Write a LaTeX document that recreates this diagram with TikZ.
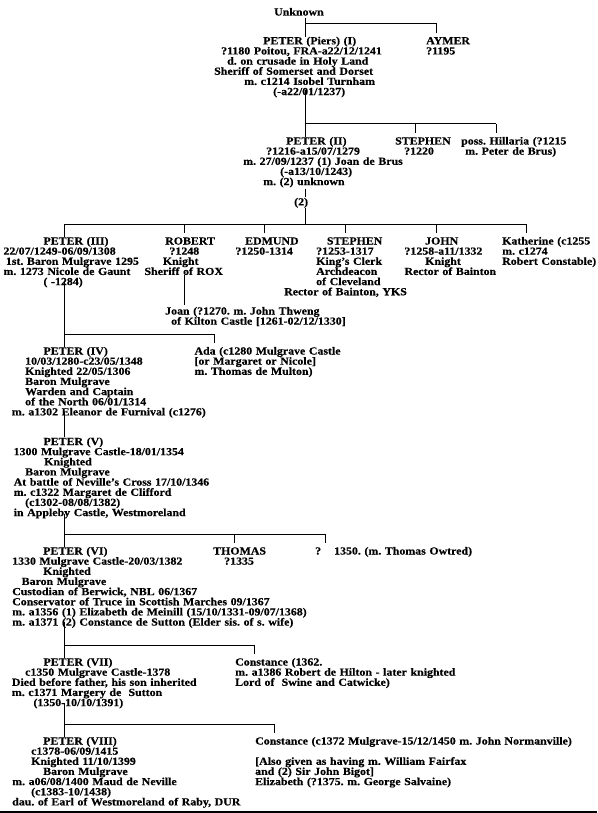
\documentclass[tikz,border=0pt]{standalone}
\usepackage{fontspec}
\setmainfont{Liberation Serif}[FakeStretch=1.1, BoldFeatures={FakeBold=0.4}]
\usetikzlibrary{positioning}

\tikzset{
  person/.style={anchor=base west, inner sep=0pt, text width=400pt, align=left,
    font={\fontsize{10.8}{10.15}\selectfont\bfseries\frenchspacing\lineskiplimit=-4pt}},
  tie/.style={line width=1pt}
}
\newcommand{\indt}[1]{\hspace*{#1pt}}

\begin{document}
\begin{tikzpicture}[x=1pt,y=-1pt]
  \fill[white] (0,0) rectangle (597,813);
  \useasboundingbox (0,0) rectangle (597,813);

  % Unknown and his sons
  \node[person] (unknown) at (274,15.5) {Unknown};
  \node[person] (peterI) at (214,44.3) {\indt{49}PETER (Piers) (I)\\
    \indt{7}?1180 Poitou, FRA-a22/12/1241\\
    \indt{13}d. on crusade in Holy Land\\
    Sheriff of Somerset and Dorset\\
    \indt{30}m. c1214 Isobel Turnham\\
    \indt{59}(-a22/01/1237)};
  \node[person] (aymer) at (426,44.3) {AYMER\\ ?1195};

  \coordinate (bar1) at (305,24);
  \coordinate (bar1e) at (436,24);
  \draw[tie] ([yshift=-2pt]unknown.south -| bar1) -- (peterI.north -| bar1);
  \draw[tie] (bar1) -- (bar1e) -- ([yshift=4pt]aymer.north -| bar1e);

  % children of Peter (I)
  \node[person] (peterII) at (243,144.5) {\indt{43}PETER (II)\\
    \indt{23}?1216-a15/07/1279\\
    m. 27/09/1237 (1) Joan de Brus\\
    \indt{37}(-a13/10/1243)\\
    \indt{20}m. (2) unknown};
  \node[person] (marr2) at (294,205.4) {(2)};
  \node[person] (stephenI) at (395,144.5) {STEPHEN\\ \indt{9}?1220};
  \node[person] (hillaria) at (461,144.5) {poss. Hillaria (?1215\\ \indt{4}m. Peter de Brus)};

  \coordinate (bar2) at (305,124);
  \coordinate (bar2e) at (496,124);
  \draw[tie] ([yshift=8pt]peterI.south -| bar2) -- (peterII.north -| bar2);
  \draw[tie] (bar2) -- (bar2e);
  \foreach \kid/\kx in {stephenI/415, hillaria/496}
    \draw[tie] (bar2 -| \kx,0) -- ([yshift=4pt]\kid.north -| \kx,0);

  % children of Peter (II) by (2)
  \node[person] (peterIII) at (3.3,244.5) {\indt{40}PETER (III)\\
    22/07/1249-06/09/1308\\
    \indt{2.4}1st. Baron Mulgrave 1295\\
    m. 1273 Nicole de Gaunt\\
    \indt{40}( -1284)};
  \node[person] (robert) at (144.3,244.5) {\indt{20.7}ROBERT\\
    \indt{25}?1248\\
    \indt{18.4}Knight\\
    Sheriff of ROX};
  \node[person] (edmund) at (235.3,244.5) {\indt{9.7}EDMUND\\ ?1250-1314};
  \node[person] (stephenII) at (284,244.5) {\indt{42.7}STEPHEN\\
    \indt{32}?1253-1317\\
    \indt{32}King's Clerk\\
    \indt{32}Archdeacon\\
    \indt{32}of Cleveland\\
    Rector of Bainton, YKS};
  \node[person] (john) at (404.3,244.5) {\indt{20.7}JOHN\\
    ?1258-a11/1332\\
    \indt{20.7}Knight\\
    Rector of Bainton};
  \node[person] (katherine) at (502,244.5) {Katherine (c1255\\ m. c1274\\ Robert Constable)};
  \node[person] (joan) at (165,314.5) {Joan (?1270. m. John Thweng\\
    \indt{6}of Kilton Castle [1261-02/12/1330]};

  \coordinate (bar3) at (305,224);
  \coordinate (bar3w) at (64,224);
  \coordinate (bar3e) at (526,224);
  \draw[tie] ([yshift=-1pt]peterII.south -| bar3) -- ([yshift=1pt]marr2.north -| bar3);
  \draw[tie] (marr2.south -| bar3) -- (bar3);
  \draw[tie] (bar3e) -- (bar3w) -- (peterIII.north -| bar3w);
  \foreach \kid/\kx in {robert/184, edmund/264, stephenII/345, john/436, katherine/526}
    \draw[tie] (bar3 -| \kx,0) -- ([yshift=4pt]\kid.north -| \kx,0);
  \draw[tie] (robert.south -| 184,0) -- ([yshift=2pt]joan.north -| 184,0);

  % children of Peter (III)
  \node[person] (peterIV) at (11.7,354.5) {\indt{31.6}PETER (IV)\\
    \indt{13.3}10/03/1280-c23/05/1348\\
    \indt{13.3}Knighted 22/05/1306\\
    \indt{13.3}Baron Mulgrave\\
    \indt{13.3}Warden and Captain\\
    \indt{13.3}of the North 06/01/1314\\
    m. a1302 Eleanor de Furnival (c1276)};
  \node[person] (ada) at (194.3,354.5) {Ada (c1280 Mulgrave Castle\\
    {[}or Margaret or Nicole]\\
    m. Thomas de Multon)};

  \coordinate (bar4) at (64,334);
  \coordinate (bar4e) at (214,334);
  \draw[tie] ([yshift=6pt]peterIII.south -| bar4) -- (peterIV.north -| bar4);
  \draw[tie] (bar4) -- (bar4e) -- ([yshift=4pt]ada.north -| bar4e);

  % Peter (V)
  \node[person] (peterV) at (13.5,445) {\indt{29.8}PETER (V)\\
    1300 Mulgrave Castle-18/01/1354\\
    \indt{30.5}Knighted\\
    \indt{11.5}Baron Mulgrave\\
    At battle of Neville's Cross 17/10/1346\\
    m. c1322 Margaret de Clifford\\
    \indt{11.5}(c1302-08/08/1382)\\
    in Appleby Castle, Westmoreland};
  \draw[tie] ([yshift=6pt]peterIV.south -| bar4) -- (peterV.north -| bar4);

  % children of Peter (V)
  \node[person] (peterVI) at (12,554.5) {\indt{31}PETER (VI)\\
    1330 Mulgrave Castle-20/03/1382\\
    \indt{31}Knighted\\
    \indt{9.5}Baron Mulgrave\\
    Custodian of Berwick, NBL 06/1367\\
    Conservator of Truce in Scottish Marches 09/1367\\
    m. a1356 (1) Elizabeth de Meinill (15/10/1331-09/07/1368)\\
    m. a1371 (2) Constance de Sutton (Elder sis. of s. wife)};
  \node[person] (thomas) at (213,554.5) {THOMAS\\ \indt{11}?1335};
  \node[person] (unnamed) at (315,554.5) {?\hspace{13pt}1350. (m. Thomas Owtred)};

  \coordinate (bar6) at (64,534);
  \coordinate (bar6e) at (325,534);
  \draw[tie] ([yshift=5pt]peterV.south -| bar6) -- (peterVI.north -| bar6);
  \draw[tie] (bar6) -- (bar6e) -- ([yshift=4pt]unnamed.north -| bar6e);
  \draw[tie] (bar6 -| 234,0) -- ([yshift=4pt]thomas.north -| 234,0);

  % children of Peter (VI)
  \node[person] (peterVII) at (11.7,665.5) {\indt{31.6}PETER (VII)\\
    \indt{13.3}c1350 Mulgrave Castle-1378\\
    Died before father, his son inherited\\
    m. c1371 Margery de\ \ Sutton\\
    \indt{21.6}(1350-10/10/1391)};
  \node[person] (constanceI) at (235,665.5) {Constance (1362.\\
    m. a1386 Robert de Hilton - later knighted\\
    Lord of\ \ Swine and Catwicke)};

  \coordinate (bar7) at (64,645);
  \coordinate (bar7e) at (254,645);
  \draw[tie] ([yshift=6pt]peterVI.south -| bar7) -- (peterVII.north -| bar7);
  \draw[tie] (bar7) -- (bar7e) -- ([yshift=4pt]constanceI.north -| bar7e);

  % children of Peter (VII)
  \node[person] (peterVIII) at (12,744.5) {\indt{31}PETER (VIII)\\
    \indt{19}c1378-06/09/1415\\
    \indt{19}Knighted 11/10/1399\\
    \indt{31}Baron Mulgrave\\
    m. a06/08/1400 Maud de Neville\\
    \indt{19}(c1383-10/1438)\\
    dau. of Earl of Westmoreland of Raby, DUR};
  \node[person] (constanceII) at (255,744.5) {Constance (c1372 Mulgrave-15/12/1450 m. John Normanville)\\
    \mbox{}\\
    {[}Also given as having m. William Fairfax\\
    and (2) Sir John Bigot]\\
    Elizabeth (?1375. m. George Salvaine)};

  \coordinate (bar8) at (64,724);
  \coordinate (bar8e) at (274,724);
  \draw[tie] ([yshift=6pt]peterVII.south -| bar8) -- (peterVIII.north -| bar8);
  \draw[tie] (bar8) -- (bar8e) -- ([yshift=4pt]constanceII.north -| bar8e);

  % rule at the foot of the page
  \fill (0,811) rectangle (597,813);
\end{tikzpicture}
\end{document}
